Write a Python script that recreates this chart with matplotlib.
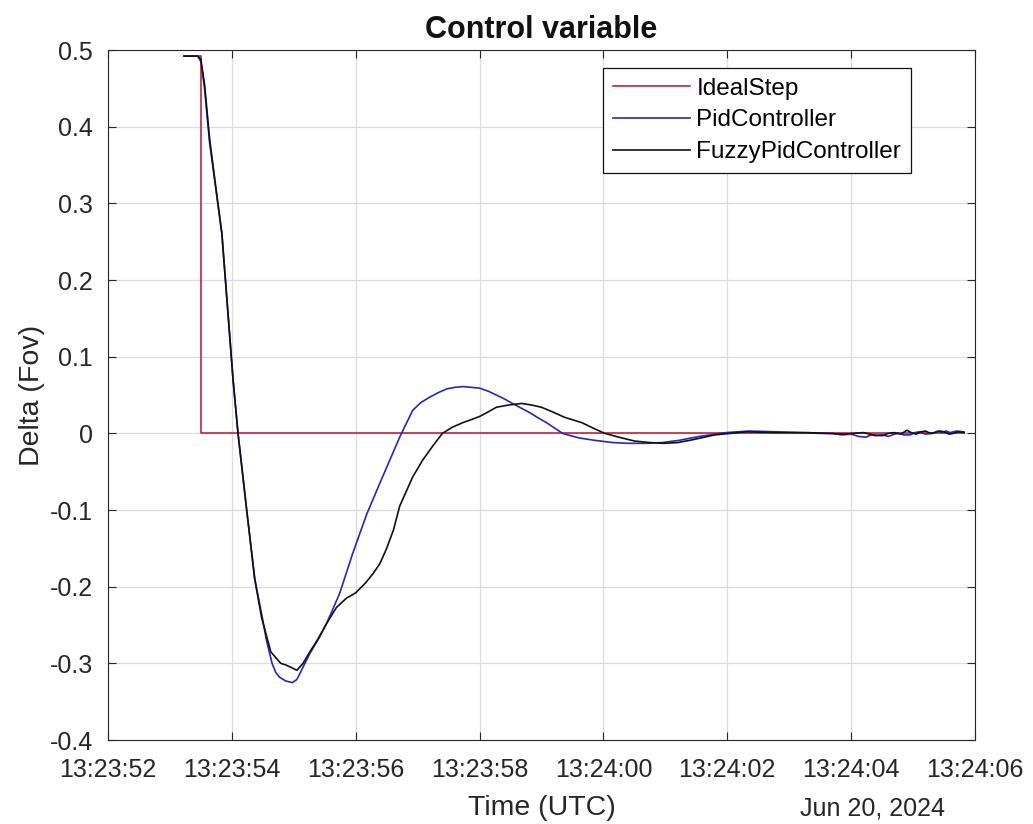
import numpy as np
import matplotlib
matplotlib.use("Agg")
import matplotlib.pyplot as plt
import matplotlib.dates as mdates

plt.rcParams['font.family'] = ['Liberation Sans', 'DejaVu Sans']

base = np.datetime64('2024-06-20T13:23:52.000')

# Seconds after 13:23:52 and values
step_t = [53.23, 53.50, 53.50, 65.82]
step_v = [0.492, 0.492, 0.0, 0.0]

pid_t = [53.23, 53.45, 53.50, 53.56, 53.64, 53.74, 53.84, 53.93, 54.02, 54.10, 54.24, 54.37, 54.48, 54.56,
         54.65, 54.71, 54.77, 54.87, 54.98, 55.05, 55.10, 55.26, 55.40, 55.53, 55.74, 55.95, 56.18, 56.39,
         56.55, 56.71, 56.92, 57.05, 57.19, 57.33, 57.47, 57.60, 57.73, 57.87, 58.00, 58.14, 58.27, 58.40,
         58.53, 58.67, 58.81, 58.95, 59.08, 59.21, 59.34, 59.47, 59.61, 59.85, 60.15, 60.40, 60.69, 60.95,
         61.23, 61.55, 61.98, 62.35, 62.80, 63.16, 63.50, 63.69, 63.85, 64.00, 64.12, 64.24, 64.32, 64.40,
         64.50, 64.60, 64.70, 64.77, 64.85, 64.95, 65.03, 65.10, 65.20, 65.31, 65.40, 65.45, 65.53, 65.60,
         65.70, 65.82]
pid_v = [0.492, 0.492, 0.485, 0.450, 0.380, 0.320, 0.260, 0.165, 0.070, 0.000, -0.100, -0.190, -0.235, -0.270,
         -0.300, -0.312, -0.318, -0.323, -0.325, -0.321, -0.313, -0.287, -0.268, -0.248, -0.209, -0.157, -0.105, -0.065,
         -0.035, -0.005, 0.030, 0.040, 0.047, 0.053, 0.058, 0.060, 0.061, 0.060, 0.059, 0.055, 0.050, 0.045,
         0.039, 0.033, 0.027, 0.020, 0.014, 0.007, 0.000, -0.003, -0.006, -0.009, -0.012, -0.013, -0.013, -0.012,
         -0.009, -0.004, 0.001, 0.003, 0.002, 0.001, 0.000, 0.000, -0.002, -0.001, -0.004, -0.005, -0.002, -0.003,
         -0.002, -0.004, -0.001, 0.000, -0.002, -0.002, 0.001, 0.002, -0.001, 0.000, 0.003, 0.001, 0.003, 0.001,
         0.003, 0.002]

fuzzy_t = [53.23, 53.45, 53.50, 53.56, 53.64, 53.74, 53.84, 53.93, 54.02, 54.10, 54.24, 54.37, 54.48, 54.63,
           54.79, 54.87, 54.95, 55.05, 55.15, 55.26, 55.40, 55.53, 55.69, 55.85, 56.00, 56.16, 56.28, 56.39,
           56.50, 56.61, 56.71, 56.82, 56.92, 57.08, 57.24, 57.40, 57.56, 57.73, 57.87, 58.00, 58.14, 58.27,
           58.47, 58.68, 58.84, 59.00, 59.18, 59.37, 59.65, 59.83, 60.02, 60.25, 60.50, 60.75, 60.97, 61.20,
           61.40, 61.80, 62.30, 62.80, 63.30, 63.90, 64.20, 64.35, 64.50, 64.60, 64.70, 64.80, 64.90, 64.97,
           65.05, 65.12, 65.20, 65.28, 65.35, 65.43, 65.50, 65.58, 65.65, 65.73, 65.82]
fuzzy_v = [0.492, 0.492, 0.488, 0.455, 0.385, 0.322, 0.260, 0.165, 0.070, 0.000, -0.100, -0.190, -0.240, -0.285,
           -0.300, -0.302, -0.305, -0.309, -0.300, -0.285, -0.267, -0.248, -0.227, -0.215, -0.208, -0.195, -0.183, -0.170,
           -0.150, -0.126, -0.095, -0.075, -0.057, -0.035, -0.017, 0.000, 0.008, 0.014, 0.018, 0.022, 0.028, 0.034,
           0.037, 0.039, 0.037, 0.034, 0.028, 0.021, 0.014, 0.007, 0.000, -0.005, -0.010, -0.012, -0.013, -0.012,
           -0.009, -0.002, 0.002, 0.001, 0.001, -0.001, 0.001, -0.002, -0.003, 0.000, 0.001, -0.001, 0.004, 0.001,
           -0.001, 0.002, 0.003, 0.000, 0.001, 0.003, 0.002, -0.001, 0.000, 0.002, 0.001]

def to_dt(ts):
    ms = np.round(np.asarray(ts) * 1000).astype('int64') - 52000
    return base + ms.astype('timedelta64[ms]')

fig = plt.figure(figsize=(10.33, 8.24), dpi=100)
ax = fig.add_axes([0.1045, 0.1019, 0.8394, 0.8374])

ax.plot(to_dt(step_t), step_v, color='#c8203a', lw=1.2, label='IdealStep')
ax.plot(to_dt(pid_t), pid_v, color='#2626c0', lw=1.2, label='PidController')
ax.plot(to_dt(fuzzy_t), fuzzy_v, color='#111111', lw=1.2, label='FuzzyPidController')

ax.set_xlim(base, base + np.timedelta64(14000, 'ms'))
ax.set_ylim(-0.4, 0.5)
ax.set_yticks(np.arange(-0.4, 0.51, 0.1))
ax.set_yticklabels(['-0.4', '-0.3', '-0.2', '-0.1', '0', '0.1', '0.2', '0.3', '0.4', '0.5'])
ax.xaxis.set_major_locator(mdates.SecondLocator(bysecond=range(0, 60, 2)))
ax.xaxis.set_major_formatter(mdates.DateFormatter('%H:%M:%S'))

ax.grid(True, color='#dcdcdc', lw=0.9)
ax.set_axisbelow(True)
ax.tick_params(direction='in', length=6, labelsize=18, colors='#262626', top=True, right=True,
               labeltop=False, labelright=False)
ax.tick_params(axis='x', pad=13)
ax.tick_params(axis='y', pad=11)
for s in ax.spines.values():
    s.set_color('#262626')
    s.set_linewidth(0.8)

ax.set_title('Control variable', fontsize=22, fontweight='bold', color='#111111', pad=9)
ax.set_xlabel('Time (UTC)', fontsize=20.5, color='#262626', labelpad=9)
ax.set_ylabel('Delta (Fov)', fontsize=20.5, color='#262626', labelpad=3)
fig.text(0.845, 0.010, 'Jun 20, 2024', fontsize=18, color='#262626', ha='center')

leg = ax.legend(loc='upper right', bbox_to_anchor=(0.926, 0.974), fontsize=17.5, frameon=True,
                fancybox=False, edgecolor='#111111', framealpha=1, borderpad=0.4,
                labelspacing=0.4, handlelength=3.2, handletextpad=0.25, borderaxespad=0)
leg.get_frame().set_linewidth(0.9)

fig.savefig('out.png', dpi=100)
